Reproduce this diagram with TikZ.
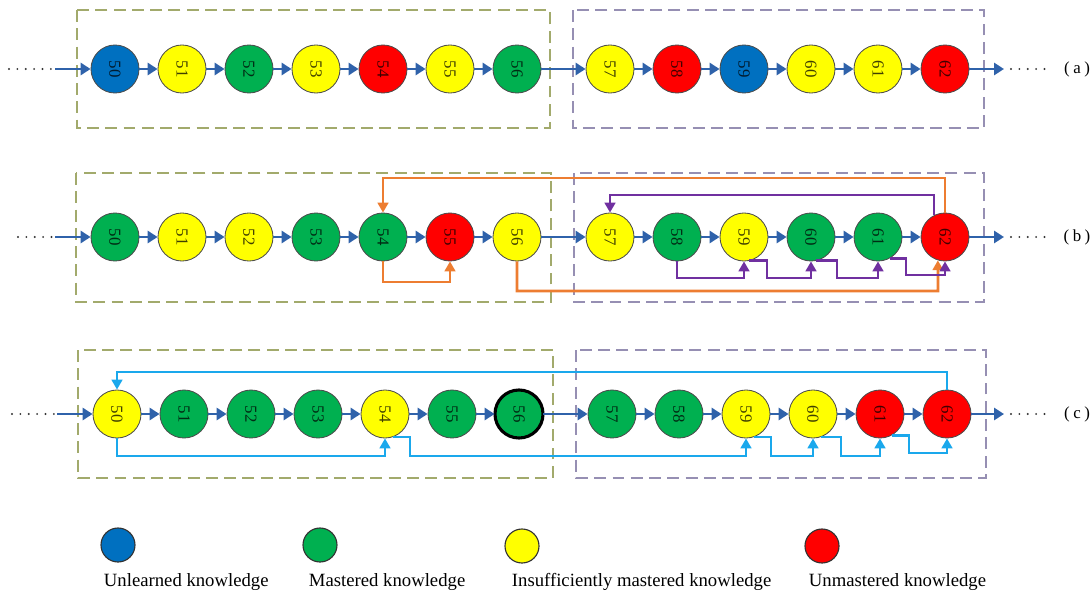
\documentclass[tikz,border=0pt]{standalone}
\usepackage{fontspec}
\setmainfont{Liberation Serif}
\usetikzlibrary{arrows.meta}

\definecolor{kblue}{HTML}{0070C0}
\definecolor{kgreen}{HTML}{00B050}
\definecolor{kyellow}{HTML}{FFFF00}
\definecolor{kred}{HTML}{FF0000}
\definecolor{flowblue}{HTML}{2F62AA}
\definecolor{korange}{HTML}{ED7D31}
\definecolor{kpurple}{HTML}{7030A0}
\definecolor{kcyan}{HTML}{1AA8EC}
\definecolor{boxgreen}{HTML}{A2AA6C}
\definecolor{boxpurple}{HTML}{968FB3}

\tikzset{
  kp/.style={circle, draw=black!70, line width=0.6pt, minimum size=1.2cm,
    inner sep=0pt, font=\fontsize{12}{13}\selectfont, text=black, text opacity=0.75},
  un/.style={kp, fill=kblue},
  ms/.style={kp, fill=kgreen},
  ins/.style={kp, fill=kyellow},
  um/.style={kp, fill=kred},
  flow/.style={draw=flowblue, line width=2.1pt, -{Triangle[length=7pt,width=8.5pt]}},
  dotline/.style={draw=black!80, line width=1.5pt, line cap=round, dash pattern=on 0pt off 5.95pt},
  jumpline/.style={line width=2pt, -{Triangle[length=7pt,width=7.5pt]}},
  orj/.style={jumpline, draw=korange, korange},
  puj/.style={jumpline, draw=kpurple, kpurple},
  cyj/.style={jumpline, draw=kcyan, kcyan},
  gbox/.style={draw=boxgreen, line width=1.3pt, dash pattern=on 8.5pt off 4.5pt},
  pbox/.style={draw=boxpurple, line width=1.3pt, dash pattern=on 8.5pt off 4.5pt},
  rowlabel/.style={font=\fontsize{12}{14}\selectfont},
  legendtext/.style={anchor=west, font=\fontsize{13.3}{16}\selectfont},
  legendball/.style={circle, draw=black!80, line width=0.8pt, minimum size=0.85cm, inner sep=0pt}
}

\begin{document}
\begin{tikzpicture}[x=0.025cm, y=-0.025cm]
\useasboundingbox (0,0) rectangle (1092,598);

% ---------- dashed group frames ----------
\draw[gbox] (77,10) rectangle (550,128);
\draw[pbox] (573,10) rectangle (984,128);
\draw[gbox] (76,173) rectangle (551,302);
\draw[pbox] (574,173) rectangle (984,302);
\draw[gbox] (78,350) rectangle (553,478);
\draw[pbox] (576,350) rectangle (986,478);

% ---------- row (a) ----------
\foreach \x/\n/\s in {115/50/un,182/51/ins,249/52/ms,316/53/ins,383/54/um,450/55/ins,517/56/ms,
                      610/57/ins,677/58/um,744/59/un,811/60/ins,878/61/ins,945/62/um}
  \node[\s] (a\n) at (\x,69) {\rotatebox{-90}{\n}};

% ---------- row (b) ----------
\foreach \x/\n/\s in {115/50/ms,182/51/ins,249/52/ins,316/53/ms,383/54/ms,450/55/um,517/56/ins,
                      610/57/ins,677/58/ms,744/59/ins,811/60/ms,878/61/ms,945/62/um}
  \node[\s] (b\n) at (\x,237) {\rotatebox{-90}{\n}};

% ---------- row (c) ----------
\foreach \x/\n/\s in {117/50/ins,184/51/ms,251/52/ms,318/53/ms,385/54/ins,452/55/ms,519/56/ms,
                      612/57/ms,679/58/ms,746/59/ins,813/60/ins,880/61/um,947/62/um}
  \node[\s] (c\n) at (\x,414) {\rotatebox{-90}{\n}};
\node[ms, draw=black, line width=2.2pt] at (c56) {\rotatebox{-90}{56}};

% ---------- sequence arrows ----------
\foreach \r in {a,b,c}{
  \foreach \p in {50,...,61}{
    \pgfmathtruncatemacro\q{\p+1}
    \draw[flow] (\r\p) -- (\r\q);
  }
}

% entry / exit of each sequence
\foreach \r/\y/\s/\t in {a/69/9/55, b/237/18/55, c/414/12/57}{
  \coordinate (\r-dot) at (\s,\y);
  \coordinate (\r-in) at (\t,\y);
  \coordinate (\r-out) at (1004,\y);
  \coordinate (\r-end) at (1052,\y);
  \draw[dotline] (\r-dot) -- (\r-in);
  \draw[flow] (\r-in) -- (\r50);
  \draw[flow] (\r62) -- (\r-out);
  \draw[dotline] ([xshift=5pt]\r-out) -- (\r-end);
}
\node[rowlabel] (la) at (1077,69) {(\kern2.5pt a\kern2.5pt)};
\node[rowlabel] (lb) at (1077,237) {(\kern2.5pt b\kern2.5pt)};
\node[rowlabel] (lc) at (1077,414) {(\kern2.5pt c\kern2.5pt)};

% ---------- row (b) jumps ----------
\draw[orj] (b62.north) |- (383,178) -- (b54.north);
\draw[orj] (b54.south) |- (450,282) -- (b55.south);
\draw[orj] (b56.south) |- (938,291) -- (b62.253);
\draw[puj] (b62.117) |- (610,195) -- (b57.north);
\draw[puj] (b58.south) |- (744,278) -- (b59.south);
\draw[puj] (b59.282) -| (767,278) -| (b60.south);
\draw[puj] (b60.282) -| (837,278) -| (b61.south);
\draw[puj] (b61.300) -| (906,275) -| (b62.south);

% ---------- row (c) jumps ----------
\draw[cyj] (c62.north) |- (117,372) -- (c50.north);
\draw[cyj] (c50.south) |- (385,456) -- (c54.south);
\draw[cyj] (c54.290) -| (410,456) -| (c59.south);
\draw[cyj] (c59.290) -| (771,456) -| (c60.south);
\draw[cyj] (c60.290) -| (841,456) -| (c61.south);
\draw[cyj] (c61.300) -| (909,453) -| (c62.south);

% ---------- legend ----------
\node[legendball, fill=kblue] (k1) at (118,545) {};
\node[legendball, fill=kgreen] (k2) at (320,545) {};
\node[legendball, fill=kyellow] (k3) at (522,546) {};
\node[legendball, fill=kred] (k4) at (822,546) {};
\node[legendtext] (t1) at (99,582) {Unlearned knowledge};
\node[legendtext] (t2) at (304,582) {Mastered knowledge};
\node[legendtext] (t3) at (507,582) {Insufficiently mastered knowledge};
\node[legendtext] (t4) at (804,582) {Unmastered knowledge};
\end{tikzpicture}
\end{document}
